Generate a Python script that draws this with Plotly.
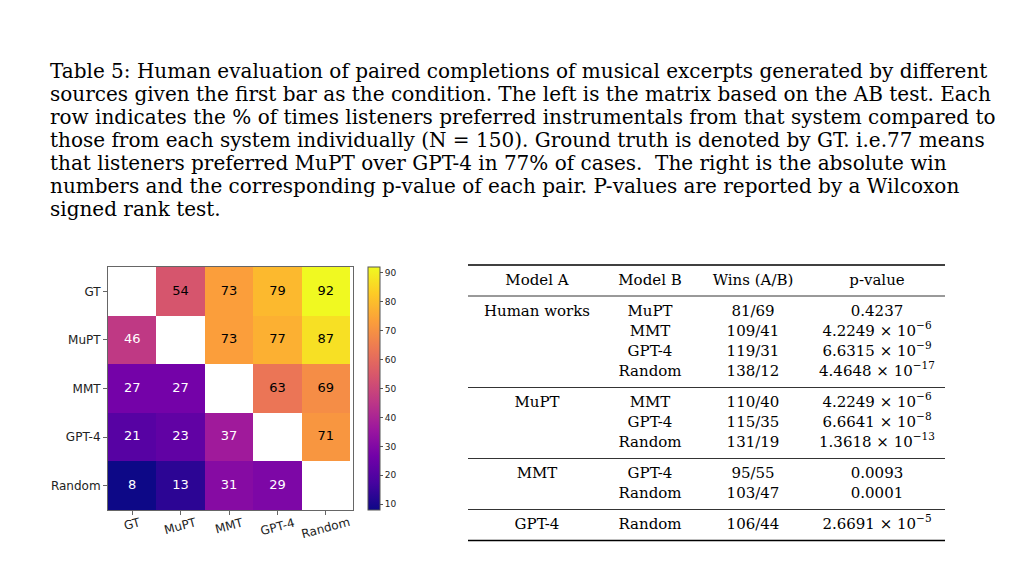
import plotly.graph_objects as go

# caption lines (as typeset in the paper)
caption_lines = [
    "Table 5: Human evaluation of paired completions of musical excerpts generated by different",
    "sources given the first bar as the condition. The left is the matrix based on the AB test. Each",
    "row indicates the % of times listeners preferred instrumentals from that system compared to",
    "those from each system individually (N = 150). Ground truth is denoted by GT. i.e.77 means",
    "that listeners preferred MuPT over GPT-4 in 77% of cases.  The right is the absolute win",
    "numbers and the corresponding p-value of each pair. P-values are reported by a Wilcoxon",
    "signed rank test.",
]

# heatmap data
systems = ["GT", "MuPT", "MMT", "GPT-4", "Random"]
pref = [
    [None, 54, 73, 79, 92],
    [46, None, 73, 77, 87],
    [27, 27, None, 63, 69],
    [21, 23, 37, None, 71],
    [8, 13, 31, 29, None],
]

# table data
table_header = ["Model A", "Model B", "Wins (A/B)", "p-value"]
groups = ["Human works", "MuPT", "MMT", "GPT-4"]
model_b = [
    ["MuPT", "MMT", "GPT-4", "Random"],
    ["MMT", "GPT-4", "Random"],
    ["GPT-4", "Random"],
    ["Random"],
]
wins = [
    ["81/69", "109/41", "119/31", "138/12"],
    ["110/40", "115/35", "131/19"],
    ["95/55", "103/47"],
    ["106/44"],
]
pvals = [
    ["0.4237", "4.2249 × 10<sup>−6</sup>", "6.6315 × 10<sup>−9</sup>", "4.4648 × 10<sup>−17</sup>"],
    ["4.2249 × 10<sup>−6</sup>", "6.6641 × 10<sup>−8</sup>", "1.3618 × 10<sup>−13</sup>"],
    ["0.0093", "0.0001"],
    ["2.6691 × 10<sup>−5</sup>"],
]

W, H = 1024, 567
OFF = 8  # the page body adds an 8px margin around the plot div
serif = "DejaVu Serif"
sans = "DejaVu Sans"


def px(x):
    return (x - OFF) / W


def py(y):
    return 1 - (y - OFF) / H


fig = go.Figure()

fig.add_trace(go.Heatmap(
    z=pref, x=systems, y=systems,
    colorscale="Plasma", zmin=8, zmax=92,
    hoverongaps=False,
    colorbar=dict(
        x=px(368), xanchor="left", y=py(510), yanchor="bottom",
        len=(510 - 267) / H, lenmode="fraction", thickness=12,
        outlinecolor="#555", outlinewidth=1, xpad=0, ypad=0,
        tickvals=[10, 20, 30, 40, 50, 60, 70, 80, 90],
        ticks="outside", ticklen=3, tickcolor="#555",
        tickfont=dict(family=sans, size=9, color="#222"),
    ),
    xaxis="x", yaxis="y",
))

# cell labels
tx, ty, tt, tc = [], [], [], []
for i, row in enumerate(pref):
    for j, v in enumerate(row):
        if v is None:
            continue
        tx.append(systems[j])
        ty.append(systems[i])
        tt.append(str(v))
        tc.append("white" if v < 50 else "black")
fig.add_trace(go.Scatter(
    x=tx, y=ty, text=tt, mode="text",
    textfont=dict(family=sans, size=13, color=tc),
    hoverinfo="skip", showlegend=False, xaxis="x", yaxis="y",
))

# rotated x tick labels, centred under each tick (matplotlib style)
for s in systems:
    fig.add_annotation(
        text=s, xref="x", yref="paper", x=s, y=py(514),
        xanchor="center", yanchor="top", textangle=-15, showarrow=False,
        borderpad=0, font=dict(family=sans, size=12, color="#222"),
    )

# table: text on a pixel-like axis (y measured from the top)
col_x = [537, 650, 753, 877]
header_y = 281
row_h, gap = 20, 11
ys = []
rules = [(265, 1.6), (296, 0.8)]
y = header_y + row_h + gap
for g, bs in enumerate(model_b):
    grp = []
    for _ in bs:
        grp.append(y)
        y += row_h
    ys.append(grp)
    rule_y = grp[-1] + (row_h + gap) / 2
    rules.append((rule_y, 1.6 if g == len(model_b) - 1 else 0.8))
    y += gap

tab_x, tab_y, tab_t = [], [], []
for c, h in enumerate(table_header):
    tab_x.append(col_x[c]); tab_y.append(header_y); tab_t.append(h)
for g, name in enumerate(groups):
    tab_x.append(col_x[0]); tab_y.append(ys[g][0]); tab_t.append(name)
    for k in range(len(model_b[g])):
        for c, val in ((1, model_b[g][k]), (2, wins[g][k]), (3, pvals[g][k])):
            tab_x.append(col_x[c]); tab_y.append(ys[g][k]); tab_t.append(val)

fig.add_trace(go.Scatter(
    x=tab_x, y=tab_y, text=tab_t, mode="text",
    textfont=dict(family=serif, size=15, color="black"),
    hoverinfo="skip", showlegend=False, xaxis="x2", yaxis="y2",
))

for ry, lw in rules:
    fig.add_shape(type="line", xref="x2", yref="y2", x0=468, x1=945, y0=ry, y1=ry,
                  line=dict(color="black", width=lw))

# caption
for k, line in enumerate(caption_lines):
    fig.add_annotation(
        text=line, xref="paper", yref="paper", x=px(49), y=py(71 + 23 * k),
        xanchor="left", yanchor="middle", showarrow=False, borderpad=0,
        font=dict(family=serif, size=20, color="black"),
    )

fig.update_layout(
    width=W, height=H, margin=dict(l=0, r=0, t=0, b=0, autoexpand=False),
    paper_bgcolor="white", plot_bgcolor="rgba(0,0,0,0)", showlegend=False,
    xaxis=dict(domain=[px(108), px(353)], showline=True, mirror=True, linecolor="#666",
               linewidth=1, ticks="outside", ticklen=4, tickcolor="#666",
               showticklabels=False, showgrid=False,
               zeroline=False, anchor="y", automargin=False),
    yaxis=dict(domain=[py(510), py(267)], showline=True, mirror=True, linecolor="#666",
               linewidth=1, ticks="outside", ticklen=4, tickcolor="#666",
               autorange="reversed", tickfont=dict(family=sans, size=12, color="#222"),
               showgrid=False, zeroline=False, anchor="x", automargin=False),
    xaxis2=dict(domain=[0, 1], range=[OFF, W + OFF], visible=False, anchor="y2",
                automargin=False),
    yaxis2=dict(domain=[0, 1], range=[H + OFF, OFF], visible=False, anchor="x2",
                automargin=False),
)

fig.write_html("out.html")
